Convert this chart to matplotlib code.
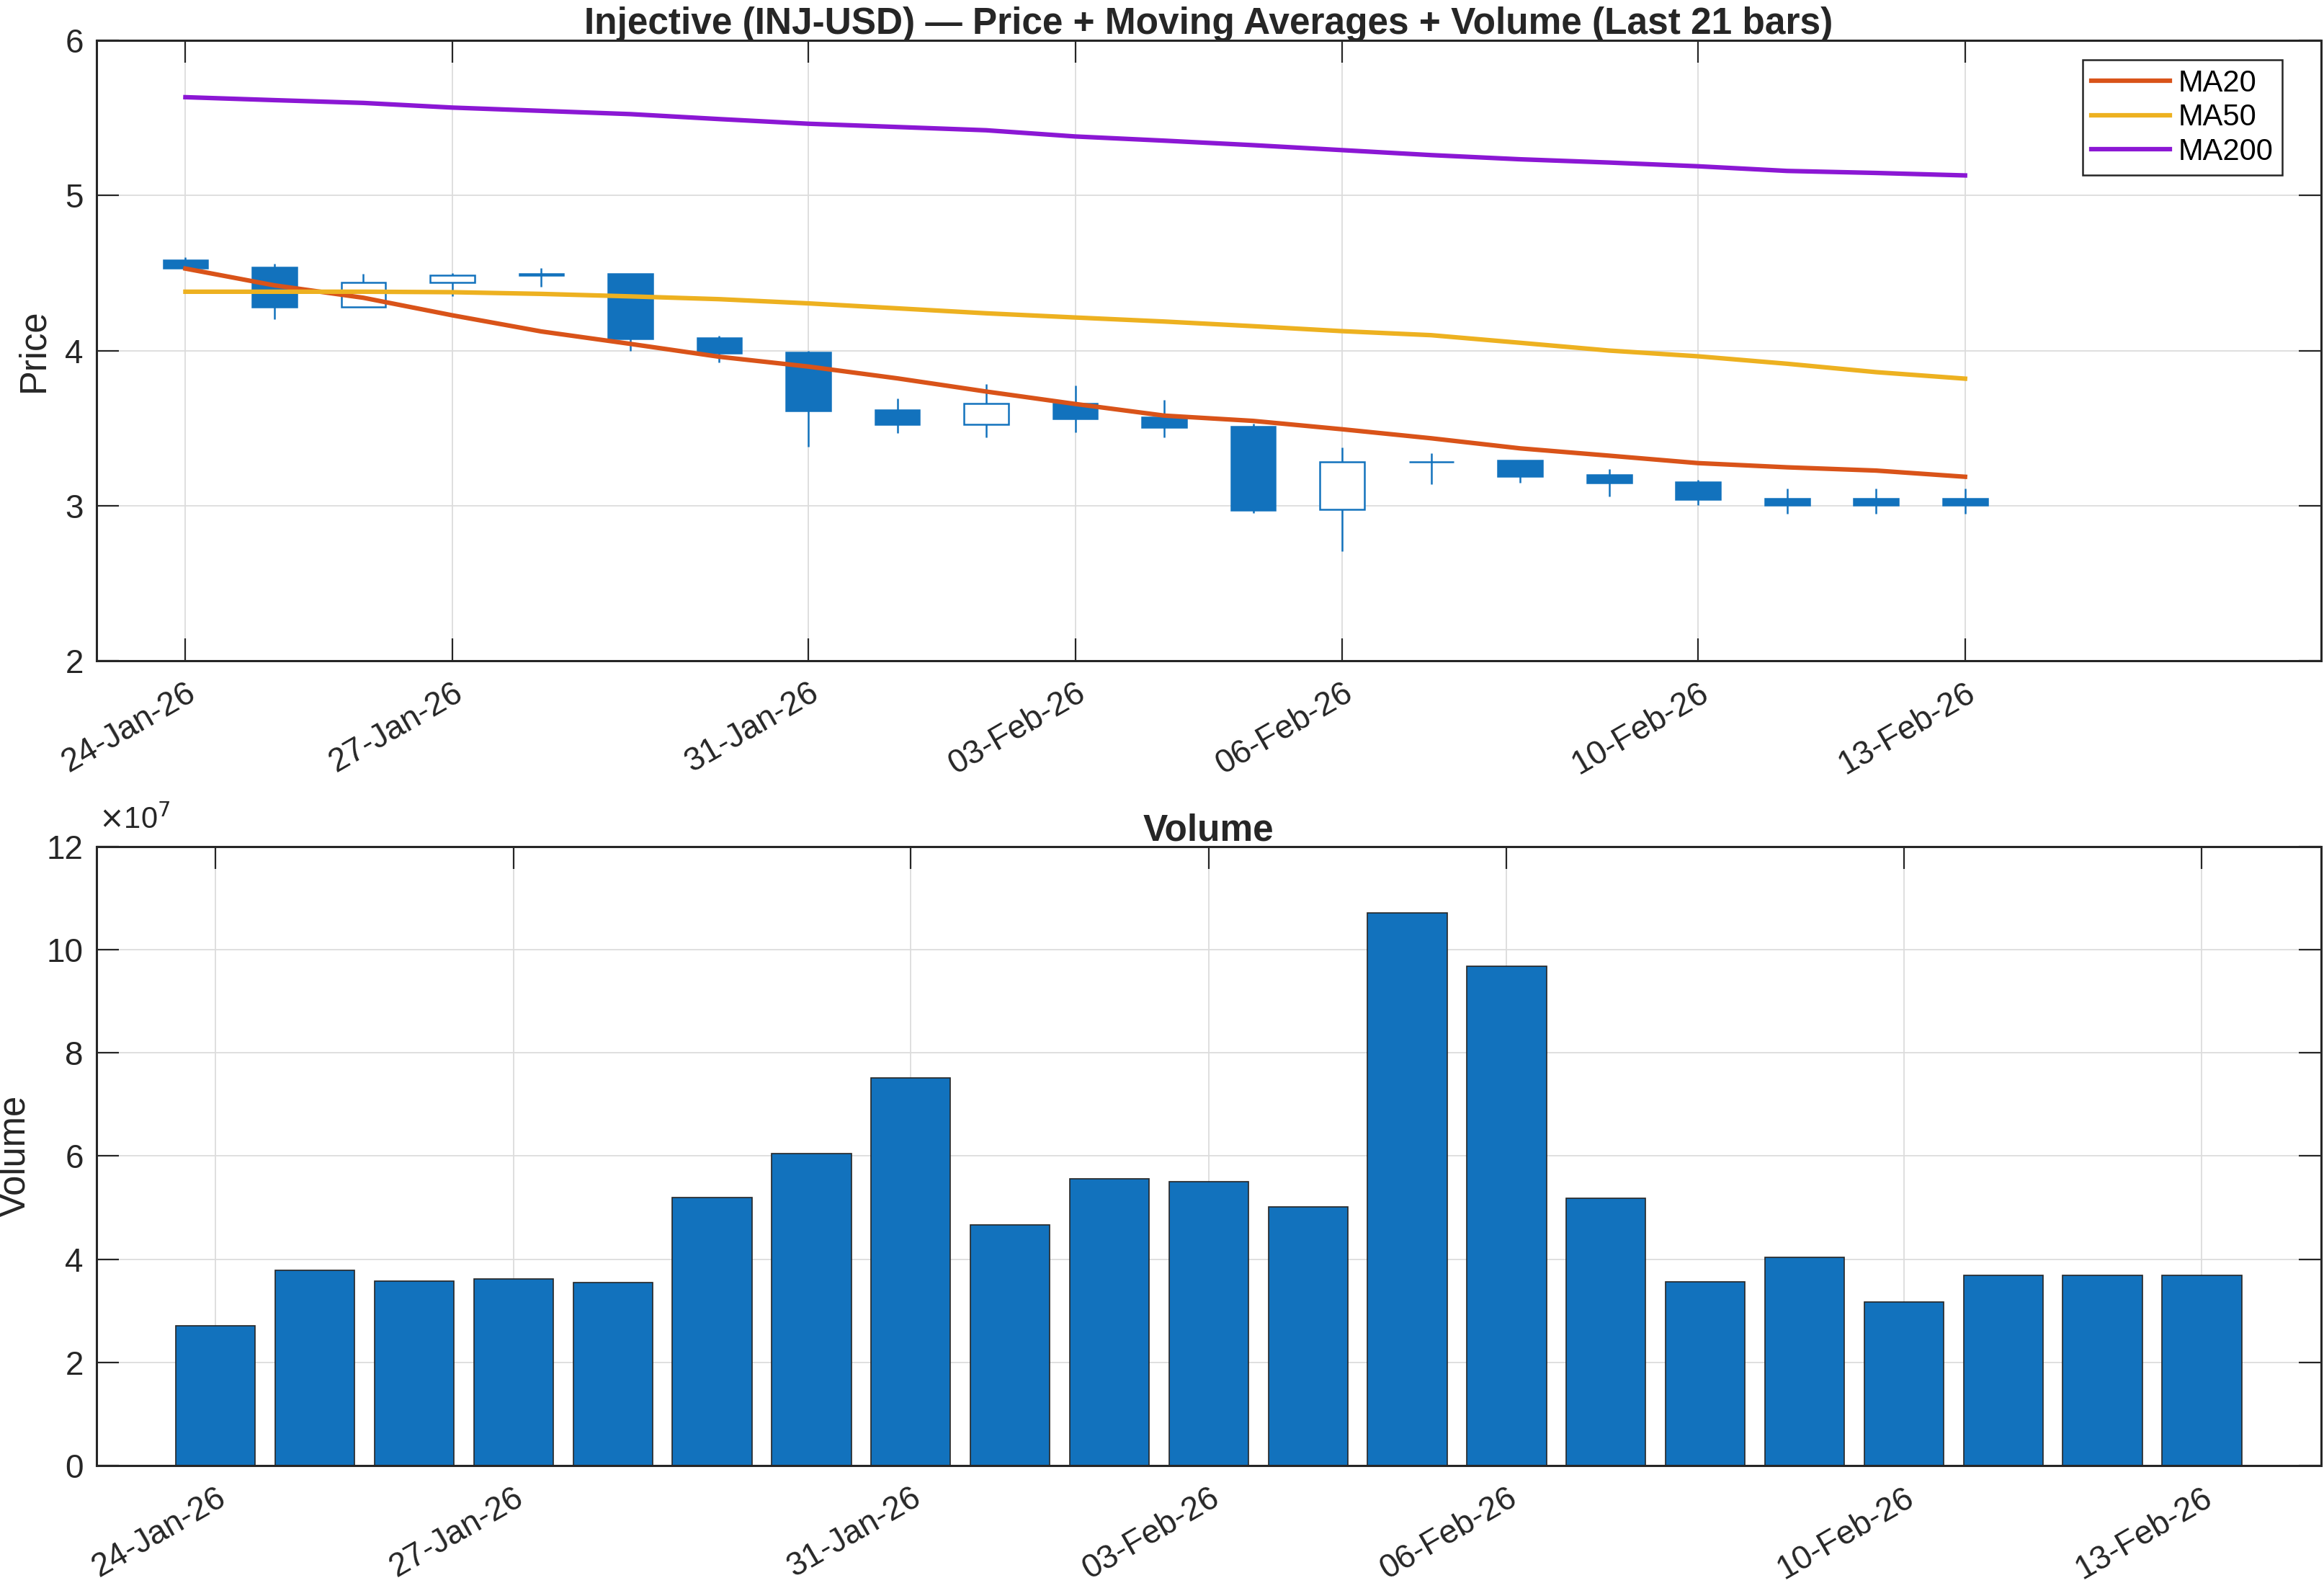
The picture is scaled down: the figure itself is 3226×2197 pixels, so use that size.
import numpy as np
import matplotlib
matplotlib.use("Agg")
from matplotlib import pyplot as plt

plt.rcParams['font.family'] = ['Liberation Sans', 'DejaVu Sans']

# data (21 daily bars)
dates = ['24-Jan-26', '25-Jan-26', '26-Jan-26', '27-Jan-26', '28-Jan-26', '29-Jan-26', '30-Jan-26',
         '31-Jan-26', '01-Feb-26', '02-Feb-26', '03-Feb-26', '04-Feb-26', '05-Feb-26', '06-Feb-26',
         '07-Feb-26', '08-Feb-26', '09-Feb-26', '10-Feb-26', '11-Feb-26', '12-Feb-26', '13-Feb-26']
tick_dates = ['24-Jan-26', '27-Jan-26', '31-Jan-26', '03-Feb-26', '06-Feb-26', '10-Feb-26', '13-Feb-26']

opens  = [4.581, 4.536, 4.283, 4.437, 4.483, 4.496, 4.080, 3.989, 3.616, 3.525, 3.661,
          3.571, 3.509, 2.976, 3.285, 3.291, 3.200, 3.152, 3.045, 3.045, 3.045]
highs  = [4.600, 4.560, 4.496, 4.499, 4.533, 4.496, 4.096, 4.000, 3.691, 3.784, 3.773,
          3.683, 3.528, 3.376, 3.339, 3.291, 3.235, 3.168, 3.112, 3.112, 3.112]
lows   = [4.530, 4.200, 4.280, 4.350, 4.411, 4.000, 3.925, 3.381, 3.467, 3.443, 3.472,
          3.443, 2.955, 2.709, 3.141, 3.147, 3.061, 3.003, 2.949, 2.949, 2.949]
closes = [4.533, 4.283, 4.437, 4.483, 4.493, 4.075, 3.984, 3.611, 3.525, 3.659, 3.563,
          3.507, 2.973, 3.285, 3.283, 3.192, 3.149, 3.040, 3.003, 3.003, 3.003]

ma20  = [4.528, 4.420, 4.340, 4.227, 4.123, 4.043, 3.960, 3.897, 3.821, 3.736, 3.656,
         3.581, 3.547, 3.493, 3.435, 3.370, 3.323, 3.275, 3.248, 3.227, 3.187]
ma50  = [4.379, 4.379, 4.379, 4.376, 4.365, 4.349, 4.331, 4.304, 4.272, 4.240, 4.213,
         4.187, 4.157, 4.125, 4.099, 4.050, 4.000, 3.963, 3.915, 3.861, 3.819]
ma200 = [5.632, 5.613, 5.595, 5.565, 5.544, 5.523, 5.491, 5.461, 5.440, 5.419, 5.379,
         5.352, 5.323, 5.291, 5.259, 5.232, 5.211, 5.187, 5.157, 5.144, 5.128]

volume = [2.72e7, 3.79e7, 3.58e7, 3.62e7, 3.55e7, 5.20e7, 6.05e7, 7.52e7, 4.66e7, 5.56e7, 5.50e7,
          5.02e7, 10.71e7, 9.67e7, 5.19e7, 3.56e7, 4.04e7, 3.18e7, 3.69e7, 3.69e7, 3.69e7]

blue = '#1272BD'
dark = '#262626'
x = np.arange(1, len(dates) + 1)
tick_pos = [x[dates.index(d)] for d in tick_dates]

fig = plt.figure(figsize=(32.26, 21.97), dpi=100)
ax1 = fig.add_axes([0.0415, 0.5824, 0.9572, 0.3923])
ax2 = fig.add_axes([0.0415, 0.0740, 0.9572, 0.3914])

FS = 33      # tick labels
LFS = 36.5   # axis labels / titles

def style(ax):
    ax.grid(True, color='#dcdcdc', lw=1.3)
    ax.set_axisbelow(True)
    for s in ax.spines.values():
        s.set_color(dark)
        s.set_linewidth(2.2)
    ax.tick_params(direction='in', length=22, width=1.6, color=dark,
                   top=True, right=True, labelsize=FS, labelcolor=dark)
    ax.tick_params(axis='y', pad=13)
    ax.tick_params(axis='x', pad=16)
    ax.set_xticks(tick_pos)
    ax.set_xticklabels(tick_dates, rotation=30, ha='right', va='top', rotation_mode='anchor')

#! candles
o = np.array(opens); c = np.array(closes)
ax1.vlines(x, lows, highs, color=blue, lw=1.8, zorder=2)
down = c < o
body_lo = np.minimum(o, c)
body_h = np.abs(c - o)
ax1.bar(x, body_h, bottom=body_lo, width=0.5,
        color=np.where(down, blue, 'white'), edgecolor=blue, linewidth=1.8, zorder=3)

ax1.plot(x, ma20, color='#D95319', lw=4.5, label='MA20', zorder=4)
ax1.plot(x, ma50, color='#EDB120', lw=4.5, label='MA50', zorder=4)
ax1.plot(x, ma200, color='#8B17D4', lw=4.5, label='MA200', zorder=4)

ax1.set_xlim(0, 25)
ax1.set_ylim(2, 6)
ax1.set_yticks([2, 3, 4, 5, 6])
ax1.set_ylabel('Price', fontsize=LFS, color=dark, labelpad=14)
ax1.set_title('Injective (INJ-USD) — Price + Moving Averages + Volume (Last 21 bars)',
              fontsize=LFS + 0.5, fontweight='bold', color=dark, pad=6)
style(ax1)
leg = ax1.legend(loc='upper right', bbox_to_anchor=(0.9825, 0.968), borderaxespad=0,
                 fontsize=30, frameon=True, fancybox=False, framealpha=1,
                 handlelength=2.6, borderpad=0.3, labelspacing=0.18, handletextpad=0.28)
leg.get_frame().set_edgecolor(dark)
leg.get_frame().set_linewidth(1.8)

#! volume
ax2.bar(x, np.array(volume) / 1e7, width=0.8, color=blue, edgecolor=dark, linewidth=1.2)
ax2.set_xlim(-0.2, 22.2)
ax2.set_ylim(0, 12)
ax2.set_yticks(np.arange(0, 13, 2))
ax2.set_ylabel('Volume', fontsize=LFS, color=dark, labelpad=14)
ax2.set_title('Volume', fontsize=LFS + 0.5, fontweight='bold', color=dark, pad=6)
ax2.text(0.001, 1.018, r'$\times$10$^{7}$', transform=ax2.transAxes, fontsize=30,
         color=dark, ha='left', va='bottom')
style(ax2)

fig.savefig('out.png', dpi=100)
